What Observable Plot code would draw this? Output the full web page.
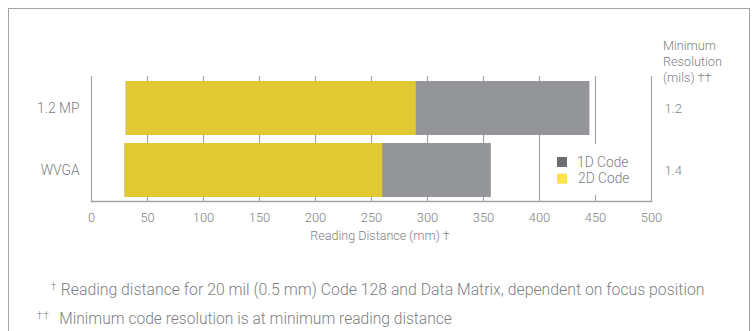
<!DOCTYPE html>
<html>
<head>
<meta charset="utf-8">
<script src="https://cdn.jsdelivr.net/npm/d3@7"></script>
<script src="https://cdn.jsdelivr.net/npm/@observablehq/plot@0.6"></script>
<style>
  html, body { margin: 0; padding: 0; background: #fff; }
  #wrap { position: relative; width: 752px; height: 331px; overflow: hidden; font-family: Roboto, "Liberation Sans", sans-serif; font-weight: 300; color: #7d7f82; }
  #border { position: absolute; left: 8px; top: 8px; width: 740px; height: 400px; border: 1.5px solid #a3a3a3; border-bottom: none; }
  #chart { position: absolute; left: 0; top: 0; }
  #overlay { position: absolute; left: 0; top: 0; }
</style>
</head>
<body>
<div id="wrap">
  <div id="border"></div>
  <div id="chart"></div>
  <svg id="overlay" width="752" height="331"></svg>
</div>
<script>
// ---- data ----
const devices = ["1.2 MP", "WVGA"];
const minDistance = [31, 30];          // mm, start of both bars
const max2DCode = [290, 260];          // mm, 2D code max reading distance
const max1DCode = [445, 357];          // mm, 1D code max reading distance
const minResolution = ["1.2", "1.4"];  // mils
const xTicks = [0, 50, 100, 150, 200, 250, 300, 350, 400, 450, 500];
const seriesNames = ["1D Code", "2D Code"];
const barColors = ["#939598", "#e1c934"];
const legendColors = ["#6d6e71", "#ffe24a"];
const xTitle = "Reading Distance (mm) \u2020";
const rightHeader = ["Minimum", "Resolution", "(mils) \u2020\u2020"];
const footnoteMarks = ["\u2020", "\u2020\u2020"];
const footnoteTexts = [
  "Reading distance for 20 mil (0.5 mm) Code 128 and Data Matrix, dependent on focus position",
  "Minimum code resolution is at minimum reading distance"
];

const rows = devices.map((d, i) => ({
  device: d, min: minDistance[i], d2: max2DCode[i], d1: max1DCode[i], res: minResolution[i]
}));

const FONT = "Roboto, 'Liberation Sans', sans-serif";
const textColor = "#7d7f82";
const gridColor = "#a5a5a5";

const chart = Plot.plot({
  width: 752,
  height: 260,
  marginLeft: 91,
  marginRight: 101,
  marginTop: 76,
  marginBottom: 59,
  style: { fontFamily: FONT, fontWeight: 300, color: textColor, background: "transparent", overflow: "visible" },
  x: { domain: [0, 500], ticks: xTicks },
  y: { domain: devices, paddingInner: 0.13, paddingOuter: 0.065 },
  marks: [
    Plot.ruleX(xTicks, { stroke: gridColor, strokeWidth: 1.2 }),
    Plot.frame({ anchor: "bottom", stroke: gridColor, strokeWidth: 1.5 }),
    Plot.barX(rows, { y: "device", x1: "min", x2: "d1", fill: barColors[0] }),
    Plot.barX(rows, { y: "device", x1: "min", x2: "d2", fill: barColors[1] }),
    Plot.axisX({ ticks: xTicks, tickSize: 0, tickPadding: 11, fontSize: 12.8, label: null, fill: textColor }),
    Plot.axisY({ tickSize: 0, tickPadding: 12, fontSize: 13.8, label: null, fill: textColor }),
    Plot.text(rows, { y: "device", text: "res", frameAnchor: "right", textAnchor: "start", dx: 13, fontSize: 13, fill: textColor })
  ]
});
document.getElementById("chart").appendChild(chart);

// fit a text element's font size so its rendered width matches a target width
function fit(el, target) {
  const fs = parseFloat(getComputedStyle(el).fontSize);
  const w = el.getBBox().width;
  if (w > 0) el.style.fontSize = (fs * target / w).toFixed(2) + "px";
}

// overlay: titles, legend, footnotes
const ov = d3.select("#overlay").style("font-family", FONT).style("font-weight", 300);
function addText(x, y, str, fs, opts = {}) {
  return ov.append("text").attr("x", x).attr("y", y).attr("fill", opts.fill || textColor)
    .attr("text-anchor", opts.anchor || "start").style("font-size", fs + "px").text(str).node();
}
// axis title
const xt = addText(380, 240, xTitle, 12, { anchor: "middle" });
fit(xt, 140);
// right header
const hdr = rightHeader.map((s, i) => addText(663, 50 + i * 16, s, 13));
fit(hdr[1], 59);
hdr.forEach(h => h.style.fontSize = hdr[1].style.fontSize);
// legend
ov.append("rect").attr("x", 547).attr("y", 144).attr("width", 98).attr("height", 51).attr("fill", "#fff");
const legTexts = seriesNames.map((name, i) => {
  ov.append("rect").attr("x", 557).attr("y", 157 + i * 16.7).attr("width", 10).attr("height", 10).attr("fill", legendColors[i]);
  return addText(577 + i * 1, 167 + i * 16.2, name, 14);
});
fit(legTexts[0], 51.5);
legTexts[1].style.fontSize = legTexts[0].style.fontSize;
// footnotes
const fnX = [60.7, 59.3], fnW = [644, 393], fnY = [295, 323.5], markX = [50.7, 36.7];
footnoteTexts.forEach((s, i) => {
  const m = addText(markX[i], fnY[i] - 5, footnoteMarks[i], 10);
  m.setAttribute("letter-spacing", "1.2");
  const t = addText(fnX[i], fnY[i], s, 15);
  fit(t, fnW[i]);
});
</script>
</body>
</html>
